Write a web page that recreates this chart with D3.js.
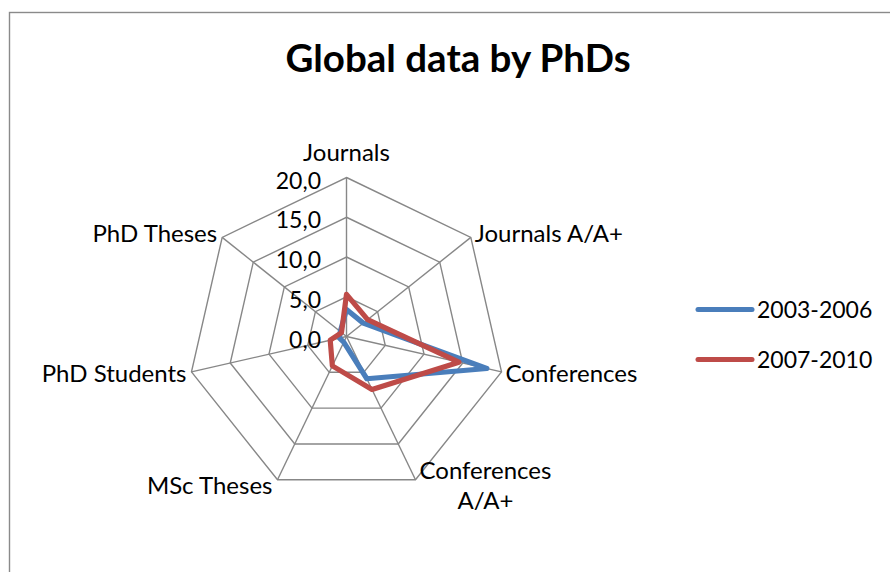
<!DOCTYPE html>
<html>
<head>
<meta charset="utf-8">
<script src="https://cdn.jsdelivr.net/npm/d3@7"></script>
<style>
  html, body { margin: 0; padding: 0; background: #ffffff; }
  svg { display: block; }
  text { font-family: Lato, "Open Sans", sans-serif; fill: #000; }
</style>
</head>
<body>
<svg id="chart" width="890" height="572"></svg>
<script>
// Publication indicators per PhD, two periods
const categories = ["Journals", "Journals A/A+", "Conferences", "Conferences A/A+", "MSc Theses", "PhD Students", "PhD Theses"];
const seriesNames = ["2003-2006", "2007-2010"];
const values2003 = [3.4, 2.7, 18.1, 5.9, 0.8, 0.9, 1.0];
const values2007 = [5.3, 3.4, 14.5, 7.4, 4.1, 2.1, 0.8];
const tickValues = [0, 5, 10, 15, 20];
const seriesColors = ["#4A7EBB", "#BE4B48"];

const W = 890, H = 572;
const cx = 346.5, cy = 336.5, R = 159;
const svg = d3.select("#chart");

// chart frame
svg.append("rect")
  .attr("x", 9.5).attr("y", 12.5)
  .attr("width", W + 20).attr("height", H + 20)
  .attr("fill", "none").attr("stroke", "#8a8a8a").attr("stroke-width", 1.4);

// title
svg.append("text")
  .attr("x", 458).attr("y", 72)
  .attr("text-anchor", "middle")
  .attr("font-weight", "bold")
  .attr("font-size", 38.5)
  .text("Global data by PhDs");

const n = categories.length;
const r = d3.scaleLinear().domain([0, 20]).range([0, R]);
const angle = d3.scaleLinear().domain([0, n]).range([0, 2 * Math.PI]);
const pt = (i, v) => [cx + r(v) * Math.sin(angle(i)), cy - r(v) * Math.cos(angle(i))];

const g = svg.append("g");

// concentric heptagons
const ring = d3.lineRadial()
  .angle((d, i) => angle(i))
  .radius(d => r(d))
  .curve(d3.curveLinearClosed);
tickValues.filter(t => t > 0).forEach(t => {
  g.append("path")
    .attr("transform", `translate(${cx},${cy})`)
    .attr("d", ring(categories.map(() => t)))
    .attr("fill", "none").attr("stroke", "#878787").attr("stroke-width", 1.4);
});

// spokes
categories.forEach((c, i) => {
  const [x, y] = pt(i, 20);
  g.append("line")
    .attr("x1", cx).attr("y1", cy).attr("x2", x).attr("y2", y)
    .attr("stroke", "#878787").attr("stroke-width", 1.4);
});

// radial value labels
const fmt = d3.formatLocale({ decimal: ",", thousands: ".", grouping: [3], currency: ["", ""] }).format(".1f");
g.selectAll(".tick")
  .data(tickValues)
  .join("text")
  .attr("class", "tick")
  .attr("x", cx - 25.5)
  .attr("y", d => cy - r(d) + 3)
  .attr("dy", "0.35em")
  .attr("text-anchor", "end")
  .attr("font-size", 23)
  .text(d => fmt(d));

// series polygons
const seriesData = [values2003, values2007];
seriesData.forEach((vals, k) => {
  g.append("path")
    .attr("transform", `translate(${cx},${cy})`)
    .attr("d", ring(vals))
    .attr("fill", "none")
    .attr("stroke", seriesColors[k])
    .attr("stroke-width", 5.2)
    .attr("stroke-linejoin", "round");
});

// category labels
const labelSize = 24;
categories.forEach((c, i) => {
  const [vx, vy] = pt(i, 20);
  const s = Math.sin(angle(i)), co = Math.cos(angle(i));
  const lines = c.length > 14 ? [c.slice(0, c.lastIndexOf(" ")), c.slice(c.lastIndexOf(" ") + 1)] : [c];
  const t = svg.append("g");
  const nodes = lines.map(l => t.append("text").attr("font-size", labelSize).attr("text-anchor", "middle").text(l));
  const widths = nodes.map(nd => nd.node().getComputedTextLength());
  const bw = d3.max(widths);
  const lh = 30;
  let bx; // block centre x
  if (Math.abs(s) < 0.1) bx = vx;
  else if (s > 0) bx = vx + 4 + bw / 2;
  else bx = vx - 5 - bw / 2;
  let by = Math.abs(s) < 0.1 ? vy - 25 : vy - co * 6;
  nodes.forEach((nd, j) => {
    nd.attr("x", bx).attr("y", by + (j - (lines.length - 1) / 2) * lh).attr("dy", "0.35em");
  });
});

// legend
const legend = svg.append("g");
seriesNames.forEach((name, k) => {
  const y = 309.5 + k * 50;
  legend.append("line")
    .attr("x1", 698).attr("x2", 752).attr("y1", y).attr("y2", y)
    .attr("stroke", seriesColors[k]).attr("stroke-width", 5).attr("stroke-linecap", "round");
  legend.append("text")
    .attr("x", 757).attr("y", y).attr("dy", "0.35em")
    .attr("font-size", 23)
    .text(name);
});
</script>
</body>
</html>
